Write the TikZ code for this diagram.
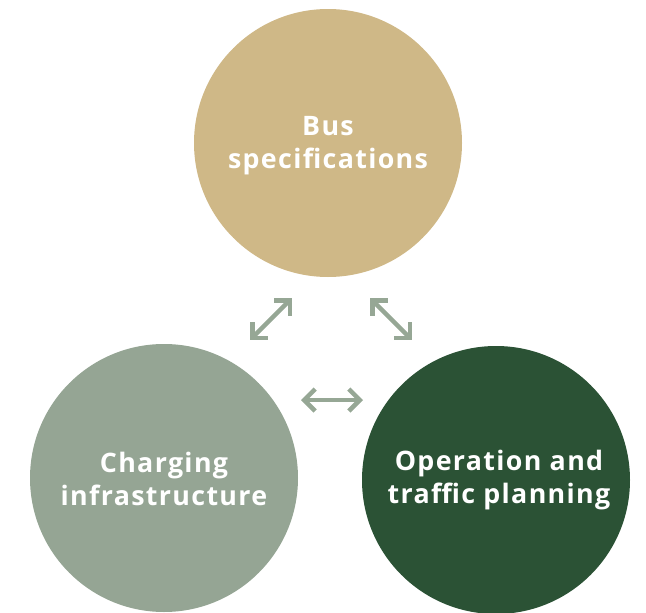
\documentclass[tikz,border=0pt]{standalone}
\usepackage{fontspec}
\setmainfont{Open Sans}[LetterSpace=5,UprightFont=* Bold]
\usetikzlibrary{arrows.meta}
\definecolor{cgold}{HTML}{CFB887}
\definecolor{csage}{HTML}{95A594}
\definecolor{cforest}{HTML}{2B5235}
\definecolor{carrow}{HTML}{96A795}
\begin{document}
\begin{tikzpicture}[x=1pt,y=-1pt,
  bubble/.style={circle,minimum size=268pt,inner sep=0pt},
  label text/.style={text=white,align=center,font=\fontsize{26.8}{33}\selectfont},
  link/.style={carrow,line width=4.5pt,{Straight Barb[length=11pt,width=22pt]}-{Straight Barb[length=11pt,width=22pt]}}]
\useasboundingbox (0,0) rectangle (646,613);
\node[bubble,fill=cgold] (bus) at (328,143) {};
\node[label text] (bust) at (328,146) {Bus\\specifications};
\node[bubble,fill=csage] (chg) at (164,478) {};
\node[label text] (chgt) at (164,479) {Charging\\infrastructure};
\node[bubble,fill=cforest] (op) at (496,480) {};
\node[label text] (opt) at (499,480) {Operation and\\traffic planning};
\coordinate (a1) at (250,340); \coordinate (a2) at (292,298);
\coordinate (b1) at (370,298); \coordinate (b2) at (412,340);
\coordinate (c1) at (301,400); \coordinate (c2) at (363,400);
\draw[link] (a1) -- (a2);
\draw[link] (b1) -- (b2);
\draw[link] (c1) -- (c2);
\end{tikzpicture}
\end{document}
